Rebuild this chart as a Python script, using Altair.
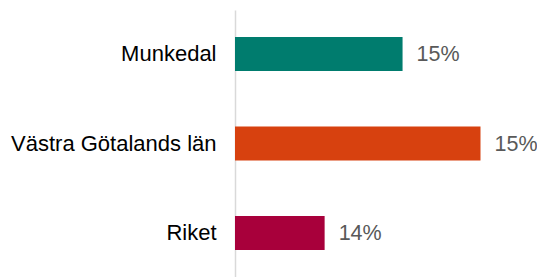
import altair as alt
import pandas as pd

categories = ["Munkedal", "Västra Götalands län", "Riket"]
values = [14.8, 15.2, 14.4]
labels = ["15%", "15%", "14%"]
colors = ["#007C6E", "#D7410F", "#A8003B"]

x_min = 13.94
x_max = 15.49

df = pd.DataFrame({"cat": categories, "val": values, "lab": labels, "col": colors})

FONT = "Liberation Sans"

y = alt.Y("cat:N", sort=categories, title=None,
          scale=alt.Scale(paddingInner=0.62, paddingOuter=0.30),
          axis=alt.Axis(ticks=False, domainColor="#D9D9D9", domainWidth=1.5,
                        labelFontSize=22, labelFont=FONT, labelColor="#000000",
                        labelPadding=19, labelLimit=400))
xs = alt.Scale(domain=[x_min, x_max], zero=False, nice=False)

bars = alt.Chart(df).mark_bar().encode(
    y=y,
    x=alt.X("val:Q", scale=xs, axis=None),
    x2=alt.datum(x_min),
    color=alt.Color("col:N", scale=None),
)

text = alt.Chart(df).mark_text(align="left", baseline="middle", dx=14, dy=1,
                               fontSize=21.5, font=FONT, color="#595959").encode(
    y=alt.Y("cat:N", sort=categories),
    x=alt.X("val:Q", scale=xs),
    text="lab:N",
)

chart = (bars + text).properties(
    width=302, height=267,
    autosize=alt.AutoSizeParams(type="none"),
    padding={"left": 227, "top": 2, "right": 0, "bottom": 0},
).configure_view(stroke=None)

chart.save("out.html", embed_options={"renderer": "svg", "actions": False})
